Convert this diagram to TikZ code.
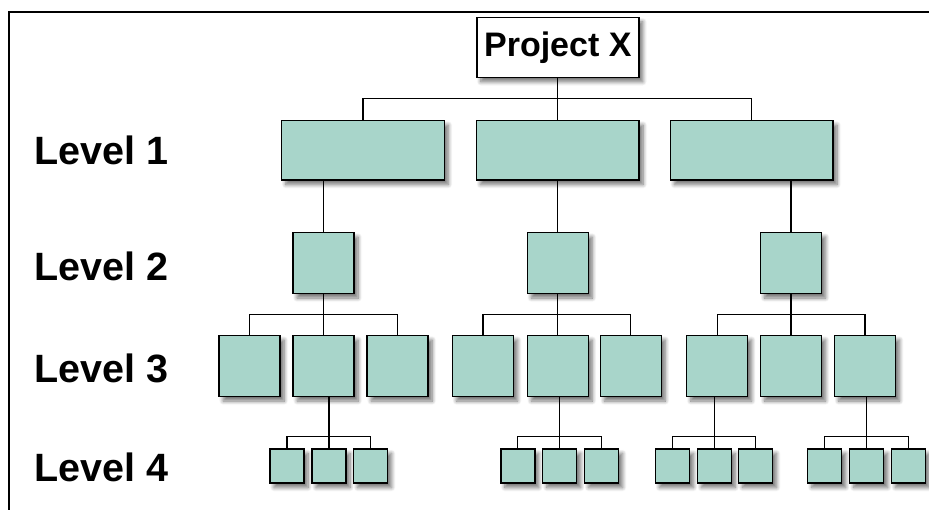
\documentclass[tikz,border=0pt]{standalone}
\usepackage{fontspec}
\setmainfont{Liberation Sans}
\usetikzlibrary{shadows.blur}
\definecolor{boxfill}{HTML}{A8D5CA}
\tikzset{
  softshadow/.style={blur shadow={shadow xshift=4pt, shadow yshift=-4.5pt, shadow blur radius=4pt, shadow blur steps=8, shadow opacity=55}},
  wbsbox/.style={draw=black, line width=1.5pt, fill=boxfill, inner sep=0pt, softshadow},
  lvlone/.style={wbsbox, minimum width=162.6pt, minimum height=59.5pt},
  lvltwo/.style={wbsbox, minimum width=61pt, minimum height=61pt},
  lvlfour/.style={wbsbox, minimum width=34pt, minimum height=34pt},
  topbox/.style={draw=black, line width=1.5pt, fill=white, inner sep=0pt,
    minimum width=162pt, minimum height=60pt, softshadow,
    font=\bfseries\fontsize{34}{40}\selectfont},
  lvllabel/.style={anchor=west, inner sep=0pt, font=\bfseries\fontsize{39.5}{46}\selectfont},
  conn/.style={draw=black, line width=1.3pt},
  frameline/.style={draw=black, line width=2pt}
}
\begin{document}
\begin{tikzpicture}[x=1pt,y=-1pt]
\useasboundingbox (0,0) rectangle (929,510);
% frame
\coordinate (fbl) at (9,511);
\coordinate (ftl) at (9,12);
\coordinate (ftr) at (930,12);
\draw[frameline] (fbl) -- (ftl) -- (ftr);

% labels
\node[lvllabel] (lab1) at (34,150) {Level 1};
\node[lvllabel] (lab2) at (34,266) {Level 2};
\node[lvllabel] (lab3) at (34,368) {Level 3};
\node[lvllabel] (lab4) at (34,467) {Level 4};

% top
\node[topbox] (px) at (557.8,47.3) {Project X};

% level 1
\node[lvlone] (a) at (363,150.3) {};
\node[lvlone] (b) at (557.8,150.3) {};
\node[lvlone] (c) at (751.7,150.3) {};

% level 2
\node[lvltwo] (a2) at (323.5,263) {};
\node[lvltwo] (b2) at (557.8,263) {};
\node[lvltwo] (c2) at (791,263) {};

% level 3
\node[lvltwo] (a31) at (249.7,366) {};
\node[lvltwo] (a32) at (323.7,366) {};
\node[lvltwo] (a33) at (397.7,366) {};
\node[lvltwo] (b31) at (483,366) {};
\node[lvltwo] (b32) at (557.8,366) {};
\node[lvltwo] (b33) at (630.8,366) {};
\node[lvltwo] (c31) at (717.2,366) {};
\node[lvltwo] (c32) at (791,366) {};
\node[lvltwo] (c33) at (865,366) {};

% level 4
\node[lvlfour] (a41) at (287,466) {};
\node[lvlfour] (a42) at (329,466) {};
\node[lvlfour] (a43) at (370.5,466) {};
\node[lvlfour] (b41) at (517.8,466) {};
\node[lvlfour] (b42) at (559.7,466) {};
\node[lvlfour] (b43) at (601.5,466) {};
\node[lvlfour] (c41) at (672.5,466) {};
\node[lvlfour] (c42) at (714.3,466) {};
\node[lvlfour] (c43) at (755.5,466) {};
\node[lvlfour] (d41) at (824.7,466) {};
\node[lvlfour] (d42) at (866.7,466) {};
\node[lvlfour] (d43) at (908.3,466) {};

% bus levels
\coordinate (bus0) at (0,98.3);
\coordinate (bus2) at (0,314.7);
\coordinate (bus3) at (0,436.7);

% project -> level 1
\draw[conn] (px.south) -- (px.south |- bus0);
\draw[conn] (a.north) |- (bus0 -| c.north) -- (c.north);
\draw[conn] (b.north) -- (b.north |- bus0);

% level 1 -> level 2
\draw[conn] (a2.north) -- (a2.north |- a.south);
\draw[conn] (b2.north) -- (b2.north |- b.south);
\draw[conn] (c2.north) -- (c2.north |- c.south);

% level 2 -> level 3
\draw[conn] (a2.south) -- (a2.south |- bus2);
\draw[conn] (a31.north) |- (bus2 -| a33.north) -- (a33.north);
\draw[conn] (a32.north) -- (a32.north |- bus2);
\draw[conn] (b2.south) -- (b2.south |- bus2);
\draw[conn] (b31.north) |- (bus2 -| b33.north) -- (b33.north);
\draw[conn] (b32.north) -- (b32.north |- bus2);
\draw[conn] (c2.south) -- (c2.south |- bus2);
\draw[conn] (c31.north) |- (bus2 -| c33.north) -- (c33.north);
\draw[conn] (c32.north) -- (c32.north |- bus2);

% level 3 -> level 4
\draw[conn] (a42.north) -- (a42.north |- a32.south);
\draw[conn] (a41.north) |- (bus3 -| a43.north) -- (a43.north);
\draw[conn] (b42.north) -- (b42.north |- b32.south);
\draw[conn] (b41.north) |- (bus3 -| b43.north) -- (b43.north);
\draw[conn] (c42.north) -- (c42.north |- c31.south);
\draw[conn] (c41.north) |- (bus3 -| c43.north) -- (c43.north);
\draw[conn] (d42.north) -- (d42.north |- c33.south);
\draw[conn] (d41.north) |- (bus3 -| d43.north) -- (d43.north);
\end{tikzpicture}
\end{document}
